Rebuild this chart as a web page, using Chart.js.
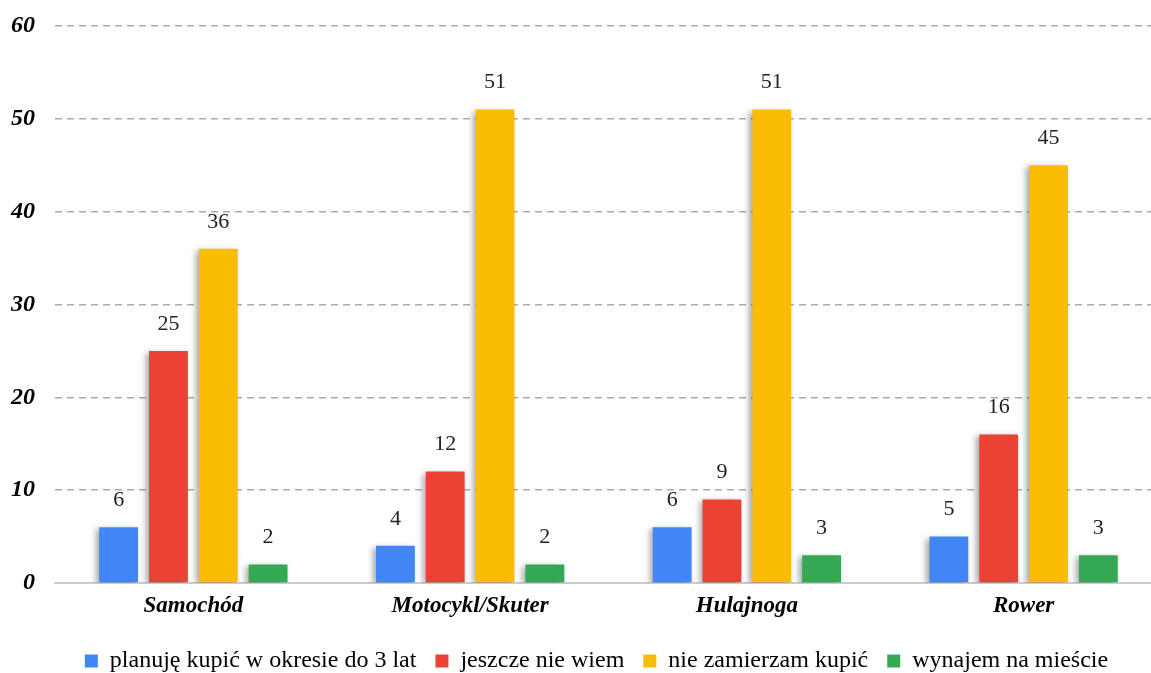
<!DOCTYPE html>
<html>
<head>
<meta charset="utf-8">
<script src="https://cdn.jsdelivr.net/npm/chart.js@4.4.0/dist/chart.umd.min.js"></script>
<style>
  html, body { margin: 0; padding: 0; background: #fff; overflow: hidden; }
  #wrap { width: 1162px; height: 673px; }
</style>
</head>
<body>
<div id="wrap"><canvas id="chart"></canvas></div>
<script>
const categories = ["Samochód", "Motocykl/Skuter", "Hulajnoga", "Rower"];
const seriesNames = ["planuję kupić w okresie do 3 lat", "jeszcze nie wiem", "nie zamierzam kupić", "wynajem na mieście"];
const planuje = [6, 4, 6, 5];
const nieWiem = [25, 12, 9, 16];
const nieZamierzam = [36, 51, 51, 45];
const wynajem = [2, 2, 3, 3];
const colors = ["#4285F4", "#EA4335", "#FBBC04", "#34A853"];

const FONT = "'Liberation Serif', 'Times New Roman', serif";

// bar shadow
const shadowPlugin = {
  id: "barShadow",
  beforeDatasetsDraw(chart) {
    const ctx = chart.ctx;
    ctx.save();
    ctx.shadowColor = "rgba(0,0,0,0.35)";
    ctx.shadowBlur = 6;
    ctx.shadowOffsetX = -3;
    ctx.shadowOffsetY = 2;
  },
  afterDatasetsDraw(chart) {
    chart.ctx.restore();
  }
};

// value labels above bars
const labelPlugin = {
  id: "valueLabels",
  afterDraw(chart) {
    const ctx = chart.ctx;
    ctx.save();
    ctx.font = "22px " + FONT;
    ctx.fillStyle = "#222";
    ctx.textAlign = "center";
    ctx.textBaseline = "bottom";
    chart.data.datasets.forEach((ds, i) => {
      chart.getDatasetMeta(i).data.forEach((bar, j) => {
        ctx.fillText(ds.data[j], bar.x, bar.y - 16);
      });
    });
    ctx.restore();
  }
};

// nudge the legend a bit to the right, like in the original
const legendShift = {
  id: "legendShift",
  afterLayout(chart) {
    chart.legend.left += 20;
    chart.legend.right += 20;
  }
};

const allSeries = [planuje, nieWiem, nieZamierzam, wynajem];

new Chart(document.getElementById("chart"), {
  type: "bar",
  data: {
    labels: categories,
    datasets: allSeries.map((d, i) => ({
      label: seriesNames[i],
      data: d,
      backgroundColor: colors[i],
      borderWidth: 0,
      barPercentage: 0.78,
      categoryPercentage: 0.72
    }))
  },
  options: {
    responsive: true,
    maintainAspectRatio: false,
    animation: false,
    layout: { padding: { top: 0, left: -9, right: 0, bottom: -10 } },
    scales: {
      x: {
        grid: { display: false, drawTicks: false },
        border: { display: true, color: "#cccccc", width: 2 },
        ticks: {
          color: "#000",
          padding: 12,
          font: { family: FONT, size: 23, weight: "bold", style: "italic", lineHeight: 1.0 }
        }
      },
      y: {
        min: 0,
        max: 60,
        ticks: {
          stepSize: 10,
          color: "#000",
          padding: 20,
          font: { family: FONT, size: 24, weight: "bold", style: "italic", lineHeight: 0.5 }
        },
        border: { display: false, dash: [7, 5] },
        grid: {
          color: ctx => ctx.tick.value === 0 ? "rgba(0,0,0,0)" : "#aaaaaa",
          lineWidth: 1.5,
          drawTicks: false
        }
      }
    },
    plugins: {
      legend: {
        position: "bottom",
        labels: {
          color: "#000",
          boxWidth: 13,
          boxHeight: 13,
          padding: 19,
          font: { family: FONT, size: 24 }
        }
      },
      tooltip: { enabled: false }
    }
  },
  plugins: [shadowPlugin, labelPlugin, legendShift]
});
</script>
</body>
</html>
